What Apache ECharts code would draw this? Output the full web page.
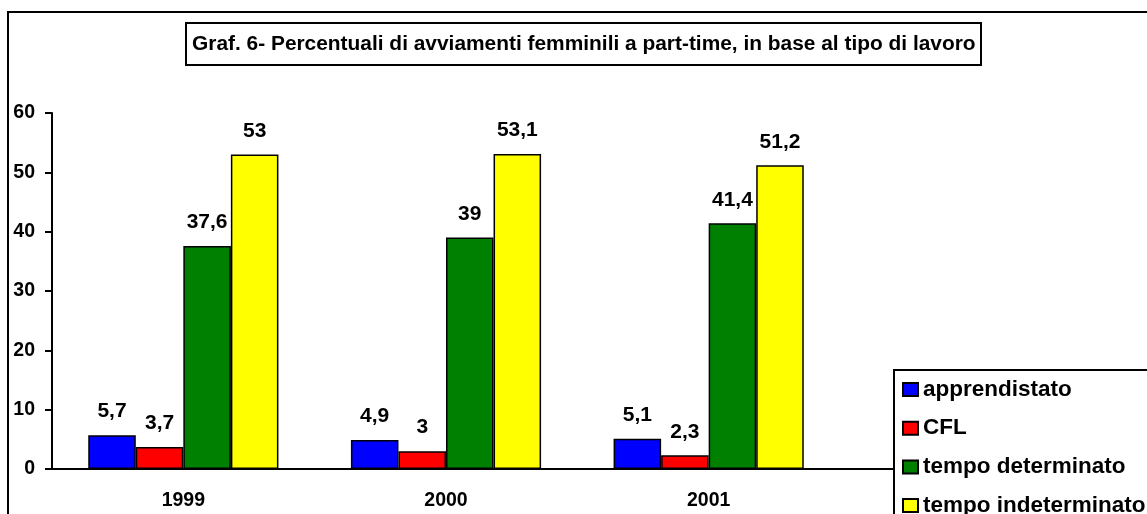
<!DOCTYPE html>
<html>
<head>
<meta charset="utf-8">
<script src="https://cdn.jsdelivr.net/npm/echarts@6/dist/echarts.min.js"></script>
<style>
  html, body { margin: 0; padding: 0; background: #fff; }
  #main { width: 1147px; height: 514px; }
</style>
</head>
<body>
<div id="main"></div>
<script>
// dati
var anni = ['1999', '2000', '2001'];
var serieNomi = ['apprendistato', 'CFL', 'tempo determinato', 'tempo indeterminato'];
var apprendistato = [5.7, 4.9, 5.1];
var cfl = [3.7, 3.0, 2.3];
var determinato = [37.6, 39, 41.4];
var indeterminato = [53, 53.1, 51.2];
var colori = ['#0000ff', '#ff0000', '#008000', '#ffff00'];

var font = '"Liberation Sans", Arial, sans-serif';
var myChart = echarts.init(document.getElementById('main'));

function serie(nome, valori, colore) {
  return {
    name: nome,
    type: 'bar',
    data: valori,
    barGap: '0%',
    barCategoryGap: '27.6%',
    itemStyle: { color: colore, borderColor: '#000', borderWidth: 1.5 },
    label: {
      show: true,
      position: 'top',
      distance: 13,
      color: '#000',
      fontFamily: font,
      fontWeight: 'bold',
      fontSize: 21,
      formatter: function (p) { return String(p.value).replace('.', ','); }
    }
  };
}

var option = {
  animation: false,
  backgroundColor: '#fff',
  title: {
    text: 'Graf. 6- Percentuali di avviamenti femminili a part-time, in base al tipo di lavoro',
    left: 186,
    top: 23,
    padding: [10, 6],
    borderColor: '#000',
    borderWidth: 2,
    textStyle: { fontFamily: font, fontWeight: 'bold', fontSize: 20.9, color: '#000', lineHeight: 22 }
  },
  legend: {
    orient: 'vertical',
    left: 894,
    top: 370,
    height: 300,
    width: 400,
    padding: [8, 8],
    itemGap: 15.7,
    itemWidth: 15,
    itemHeight: 13,
    icon: 'rect',
    borderColor: '#000',
    borderWidth: 2,
    data: serieNomi,
    textStyle: { fontFamily: font, fontWeight: 'bold', fontSize: 22.5, color: '#000', lineHeight: 22 }
  },
  grid: { left: 52, right: 307, top: 113, bottom: 45 },
  xAxis: {
    type: 'category',
    data: anni,
    axisLine: { lineStyle: { color: '#000', width: 2 } },
    axisTick: { length: 7, lineStyle: { color: '#000', width: 2 } },
    axisLabel: { margin: 22, color: '#000', fontFamily: font, fontWeight: 'bold', fontSize: 19.5 }
  },
  yAxis: {
    type: 'value',
    min: 0,
    max: 60,
    interval: 10,
    splitLine: { show: false },
    axisLine: { show: true, lineStyle: { color: '#000', width: 2 } },
    axisTick: { show: true, length: 7, lineStyle: { color: '#000', width: 2 } },
    axisLabel: { margin: 17, color: '#000', fontFamily: font, fontWeight: 'bold', fontSize: 19.5 }
  },
  graphic: [
    { type: 'rect', shape: { x: 8, y: 12, width: 1300, height: 700 },
      style: { fill: 'none', stroke: '#000', lineWidth: 2 }, z: 100 },
    { type: 'line', shape: { x1: 840, y1: 469, x2: 894, y2: 469 },
      style: { stroke: '#000', lineWidth: 2 } }
  ],
  series: [
    serie(serieNomi[0], apprendistato, colori[0]),
    serie(serieNomi[1], cfl, colori[1]),
    serie(serieNomi[2], determinato, colori[2]),
    serie(serieNomi[3], indeterminato, colori[3])
  ]
};

myChart.setOption(option);
</script>
</body>
</html>
